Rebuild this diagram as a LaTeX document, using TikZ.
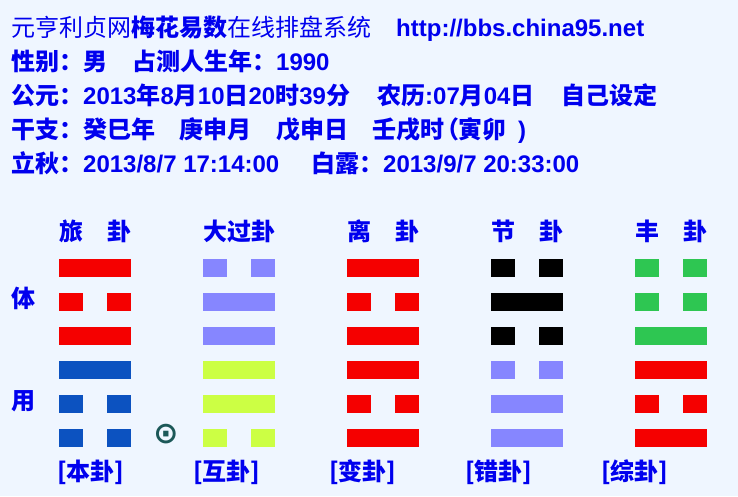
\documentclass[tikz,border=0pt]{standalone}
\usepackage{fontspec}
\setmainfont{Noto Sans CJK SC}
\newfontfamily\enfont{Liberation Sans}
\newfontfamily\symfont{DejaVu Sans}
\newcommand\en[1]{{\enfont #1}}
\definecolor{PageBg}{RGB}{239,246,255}
\definecolor{InkBlue}{RGB}{0,0,238}
\definecolor{YaoRed}{RGB}{245,0,0}
\definecolor{YaoBlue}{RGB}{12,82,192}
\definecolor{YaoLilac}{RGB}{134,134,255}
\definecolor{YaoLime}{RGB}{204,255,68}
\definecolor{YaoGreen}{RGB}{46,198,82}
\definecolor{DotTeal}{RGB}{28,88,88}

\begin{document}
\begin{tikzpicture}[x=1pt, y=-1pt,
          txt/.style={anchor=base west, inner sep=0pt, text=InkBlue,
                      font=\fontsize{24}{24}\selectfont\bfseries},
          hd/.style={anchor=base, inner sep=0pt, text=InkBlue,
                     font=\fontsize{24}{24}\selectfont\bfseries},
          yang/.style={rectangle, fill=#1, inner sep=0pt,
                       minimum width=72pt, minimum height=18pt},
          yin/.style={yang=#1, path picture={
                      \fill[PageBg] ([xshift=24pt]path picture bounding box.south west)
                        rectangle ([xshift=-24pt]path picture bounding box.north east);}}
        ]
        \fill[PageBg] (0,0) rectangle (738,496);

        % Header lines
        \node[txt] (site) at (11,36) {{\mdseries 元亨利贞网}梅花易数{\mdseries 在线排盘系统}};
        \node[txt] (url) at (396,36) {\en{http://bbs.china95.net}};
        \node[txt] (sex) at (11,70) {性别：男};
        \node[txt] (born) at (132,70) {占测人生年：\en{1990}};
        \node[txt] (solar) at (11,104) {公元：\en{2013}年\en{8}月\en{10}日\en{20}时\en{39}分};
        \node[txt] (lunar) at (377,104) {农历\en{:07}月\en{04}日};
        \node[txt] (mode) at (561,104) {自己设定};
        \node[txt] (ganY) at (11,138) {干支：癸巳年};
        \node[txt] (ganM) at (179,138) {庚申月};
        \node[txt] (ganD) at (276,138) {戊申日};
        \node[txt] (ganH) at (372,138) {壬戌时};
        \node[txt] (xunkong) at (446,138)
          {{\addfontfeature{RawFeature=+palt}（}寅卯\hspace{12pt}\en{)}};
        \node[txt] (liqiu) at (11,172) {立秋：\en{2013/8/7 17:14:00}};
        \node[txt] (bailu) at (311,172) {白露：\en{2013/9/7 20:33:00}};

        % Titles
        \node[hd] (tLv) at (95,240) {旅\hspace{24pt}卦};
        \node[hd] (tDg) at (239,240) {大过卦};
        \node[hd] (tLi) at (383,240) {离\hspace{24pt}卦};
        \node[hd] (tJie) at (527,240) {节\hspace{24pt}卦};
        \node[hd] (tFeng) at (671,240) {丰\hspace{24pt}卦};

        % Ti / Yong
        \node[txt] (ti) at (11,307.5) {体};
        \node[txt] (yong) at (11,409) {用};

        % Ben gua: Lv
        \node[yang=YaoRed]  (lv6) at (95,268) {};
        \node[yin=YaoRed]   (lv5) at (95,302) {};
        \node[yang=YaoRed]  (lv4) at (95,336) {};
        \node[yang=YaoBlue] (lv3) at (95,370) {};
        \node[yin=YaoBlue]  (lv2) at (95,404) {};
        \node[yin=YaoBlue]  (lv1) at (95,438) {};

        % moving line mark
        \node[inner sep=0pt, text=DotTeal, font=\symfont\bfseries\fontsize{30}{30}\selectfont]
          (dong) at (166,434) {⊙};

        % Hu gua: Da Guo
        \node[yin=YaoLilac]  (dg6) at (239,268) {};
        \node[yang=YaoLilac] (dg5) at (239,302) {};
        \node[yang=YaoLilac] (dg4) at (239,336) {};
        \node[yang=YaoLime]  (dg3) at (239,370) {};
        \node[yang=YaoLime]  (dg2) at (239,404) {};
        \node[yin=YaoLime]   (dg1) at (239,438) {};

        % Bian gua: Li
        \node[yang=YaoRed] (li6) at (383,268) {};
        \node[yin=YaoRed]  (li5) at (383,302) {};
        \node[yang=YaoRed] (li4) at (383,336) {};
        \node[yang=YaoRed] (li3) at (383,370) {};
        \node[yin=YaoRed]  (li2) at (383,404) {};
        \node[yang=YaoRed] (li1) at (383,438) {};

        % Cuo gua: Jie
        \node[yin=black]     (jie6) at (527,268) {};
        \node[yang=black]    (jie5) at (527,302) {};
        \node[yin=black]     (jie4) at (527,336) {};
        \node[yin=YaoLilac]  (jie3) at (527,370) {};
        \node[yang=YaoLilac] (jie2) at (527,404) {};
        \node[yang=YaoLilac] (jie1) at (527,438) {};

        % Zong gua: Feng
        \node[yin=YaoGreen]  (feng6) at (671,268) {};
        \node[yin=YaoGreen]  (feng5) at (671,302) {};
        \node[yang=YaoGreen] (feng4) at (671,336) {};
        \node[yang=YaoRed]   (feng3) at (671,370) {};
        \node[yin=YaoRed]    (feng2) at (671,404) {};
        \node[yang=YaoRed]   (feng1) at (671,438) {};

        % Bottom labels
        \node[txt] (lBen) at (57,480) {[本卦]};
        \node[txt] (lHu) at (193,480) {[互卦]};
        \node[txt] (lBian) at (329,480) {[变卦]};
        \node[txt] (lCuo) at (465,480) {[错卦]};
        \node[txt] (lZong) at (601,480) {[综卦]};
      \end{tikzpicture}
\end{document}
